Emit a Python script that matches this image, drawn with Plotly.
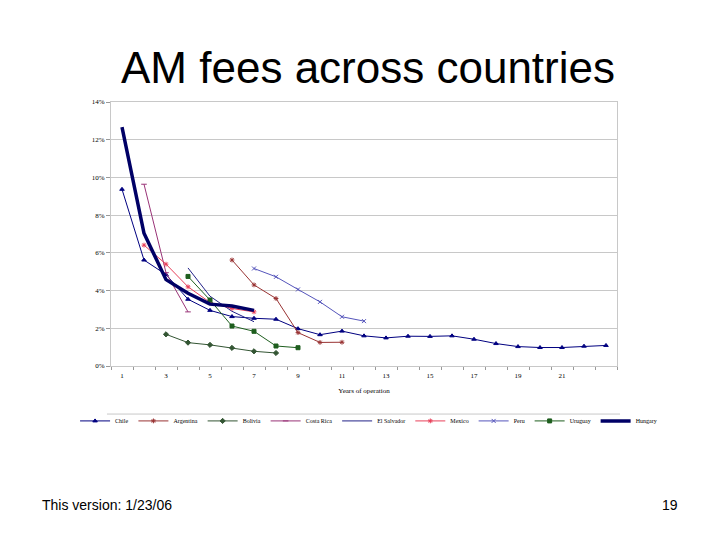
import plotly.graph_objects as go

# fee levels in % by year of operation
years = list(range(1, 24))
chile = [9.37, 5.62, 4.85, 3.54, 2.95, 2.62, 2.53, 2.48, 1.98, 1.66, 1.85, 1.60,
         1.49, 1.58, 1.57, 1.60, 1.42, 1.19, 1.03, 0.98, 0.98, 1.05, 1.09]
argentina_x = [6, 7, 8, 9, 10, 11]
argentina = [5.62, 4.30, 3.58, 1.77, 1.25, 1.26]
bolivia_x = [3, 4, 5, 6, 7, 8]
bolivia = [1.68, 1.24, 1.12, 0.96, 0.78, 0.69]
costa_rica_x = [2, 3, 4]
costa_rica = [9.64, 4.95, 2.87]
el_salvador_x = [4, 5, 6, 7]
el_salvador = [5.20, 3.70, 2.90, 2.35]
mexico_x = [2, 3, 4, 5, 6, 7]
mexico = [6.41, 5.40, 4.20, 3.37, 3.05, 2.87]
peru_x = [7, 8, 9, 10, 11, 12]
peru = [5.17, 4.73, 4.06, 3.40, 2.61, 2.38]
uruguay_x = [4, 5, 6, 7, 8, 9]
uruguay = [4.75, 3.50, 2.12, 1.84, 1.06, 0.97]
hungary_x = [1, 2, 3, 4, 5, 6, 7]
hungary = [12.67, 7.04, 4.58, 3.86, 3.28, 3.18, 2.95]

x_labels = [str(v) for v in range(1, 22, 2)]
y_ticks = list(range(0, 15, 2))

series = [
    ("Chile", years, chile, "#000080", "triangle-up", 1, 4),
    ("Argentina", argentina_x, argentina, "#993333", "asterisk-open", 1, 4),
    ("Bolivia", bolivia_x, bolivia, "#335533", "diamond", 1, 4),
    ("Costa Rica", costa_rica_x, costa_rica, "#993377", "line-ew-open", 1, 4),
    ("El Salvador", el_salvador_x, el_salvador, "#222288", None, 1, 4),
    ("Mexico", mexico_x, mexico, "#E8405A", "asterisk-open", 1, 4),
    ("Peru", peru_x, peru, "#5555BB", "x-thin-open", 1, 4),
    ("Uruguay", uruguay_x, uruguay, "#1E5E1E", "square", 1, 4),
    ("Hungary", hungary_x, hungary, "#000066", None, 3.5, 4),
]

serif = "Liberation Serif"

fig = go.Figure()
for name, xs, ys, col, sym, lw, ms in series:
    fig.add_trace(go.Scatter(
        x=xs, y=ys, name=name,
        mode="lines+markers" if sym else "lines",
        line=dict(color=col, width=lw),
        marker=dict(symbol=sym or "circle", size=ms, color=col,
                    line=dict(color=col, width=1)),
    ))

# the page body adds an 8px offset, so margins are 8px smaller than the target
fig.update_layout(
    width=720, height=540,
    paper_bgcolor="white", plot_bgcolor="white",
    margin=dict(l=103, r=111, t=94, b=182),
    title=dict(text="AM fees across countries", x=0.5, xanchor="center",
               y=1 - 60 / 540, yanchor="middle",
               font=dict(family="Liberation Sans", size=44, color="black")),
    font=dict(family=serif, size=6, color="black"),
    legend=dict(orientation="h", x=-0.071, xanchor="left",
                y=-0.208, yanchor="middle",
                font=dict(family=serif, size=6), itemwidth=30,
                tracegroupgap=0, bgcolor="rgba(0,0,0,0)"),
    shapes=[dict(type="line", xref="paper", yref="paper",
                 x0=-0.008, x1=1.006, y0=-0.182, y1=-0.182,
                 line=dict(color="#C8C8C8", width=1))],
    annotations=[
        dict(text="This version: 1/23/06", xref="paper", yref="paper",
             x=-0.140, y=-0.527, xanchor="left", yanchor="middle",
             showarrow=False, font=dict(family="Liberation Sans", size=14)),
        dict(text="19", xref="paper", yref="paper",
             x=1.125, y=-0.527, xanchor="right", yanchor="middle",
             showarrow=False, font=dict(family="Liberation Sans", size=14)),
    ],
)

fig.update_xaxes(
    range=[0.5, 23.5], tickmode="array",
    tickvals=[int(v) for v in x_labels], ticktext=x_labels, ticks="",
    ticklabelstandoff=3,
    minor=dict(tickmode="linear", tick0=0.5, dtick=1, ticks="outside",
               ticklen=3, tickcolor="#999999", showgrid=False),
    showgrid=False, zeroline=False, showline=True, mirror=True,
    linecolor="#C8C8C8", linewidth=1,
    title=dict(text="Years of operation", font=dict(family=serif, size=7),
               standoff=8),
    tickfont=dict(family=serif, size=7),
)
fig.update_yaxes(
    range=[0, 14], tickmode="array", tickvals=y_ticks,
    ticktext=[f"{v}%" for v in y_ticks], ticks="outside", ticklen=4,
    tickcolor="#999999", showgrid=True, gridcolor="#C8C8C8", gridwidth=1,
    zeroline=False, showline=True, mirror=True, linecolor="#C8C8C8",
    tickfont=dict(family=serif, size=7),
)

fig.write_html("out.html")
